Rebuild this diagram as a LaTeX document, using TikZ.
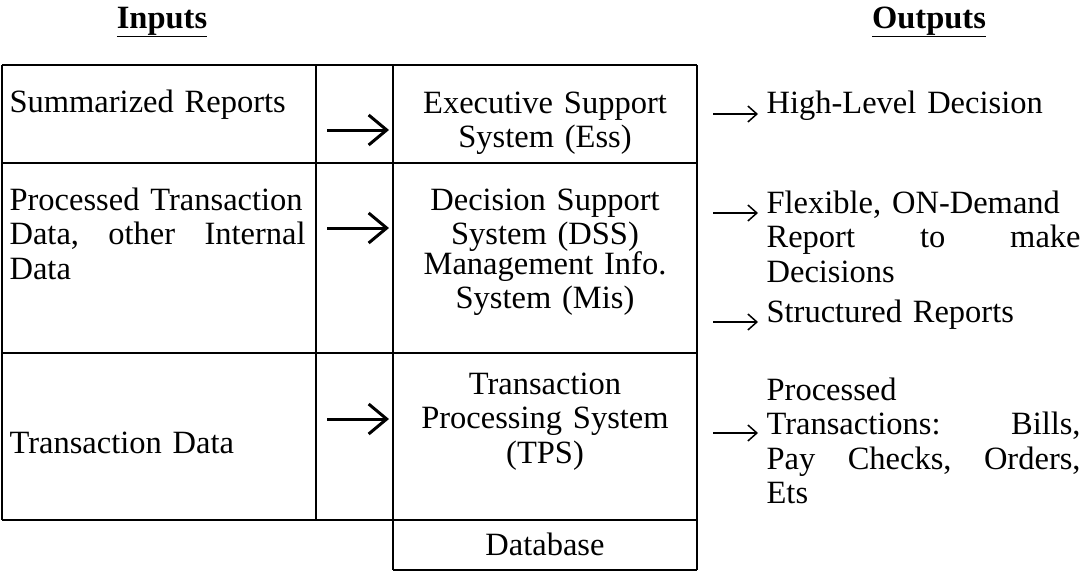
\documentclass[tikz,border=0pt]{standalone}
\usepackage{fontspec}
\setmainfont{Liberation Serif}
\usetikzlibrary{arrows.meta}

\tikzset{
  intext/.style={inner sep=0pt, anchor=base west, text width=300pt},
  systext/.style={inner sep=0pt, anchor=base, text width=300pt, align=center},
  outtext/.style={inner sep=0pt, anchor=base west, text width=314pt},
  inarrow/.style={line width=3pt, -{Straight Barb[length=18pt,width=30pt]}},
  outarrow/.style={line width=1.5pt, -{Straight Barb[length=9pt,width=16pt]}}
}

\begin{document}
\begin{tikzpicture}[x=1pt, y=-1pt, line width=1.2pt,
    every node/.style={font=\fontsize{32.5}{34.5}\selectfont}]
  \useasboundingbox (0,0) rectangle (1087,576);

  % Draw headings
  \node[inner sep=0pt, anchor=base] (inputs) at (162,28) {\textbf{\underline{Inputs}}};
  \node[inner sep=0pt, anchor=base] (outputs) at (929,28) {\textbf{\underline{Outputs}}};

  % Draw table
  \foreach \y in {65,163,353,520}
    \draw (2,\y) -- (697,\y);
  \draw (393,570) -- (697,570);
  \draw (2,65) -- (2,520);
  \draw (316,65) -- (316,520);
  \draw (393,65) -- (393,570);
  \draw (697,65) -- (697,570);

  % Inputs
  \node[intext] (summ) at (9,112) {Summarized Reports};
  \node[intext] (ptd) at (9,210) {Processed Transaction\\
    \makebox[296pt]{Data,\hfill other\hfill Internal}\\ Data};
  \node[intext] (tdata) at (9,453) {Transaction Data};

  % Systems
  \node[systext] (ess) at (545,113) {Executive Support\\ System (Ess)};
  \node[systext] (dss) at (545,210) {Decision Support\\ System (DSS)};
  \node[systext] (mis) at (545,274) {Management Info.\\ System (Mis)};
  \node[systext] (tps) at (545,394) {Transaction\\ Processing System\\ (TPS)};
  \node[systext] (db) at (545,555) {Database};

  % Outputs
  \node[outtext] (hld) at (766,113) {High-Level Decision};
  \node[outtext] (flex) at (766,213) {Flexible, ON-Demand\\
    \makebox[314pt]{Report\hfill to\hfill make}\\ Decisions};
  \node[outtext] (struct) at (766,322) {Structured Reports};
  \node[outtext] (ptrans) at (766,400) {Processed\\
    \makebox[314pt]{Transactions:\hfill Bills,}\\
    \makebox[314pt]{Pay\hfill Checks,\hfill Orders,}\\ Ets};

  % Arrows
  \coordinate (i1) at (327,130);
  \coordinate (j1) at (389,130);
  \coordinate (i2) at (327,228);
  \coordinate (j2) at (389,228);
  \coordinate (i3) at (327,419);
  \coordinate (j3) at (389,419);
  \draw[inarrow] (i1) -- (j1);
  \draw[inarrow] (i2) -- (j2);
  \draw[inarrow] (i3) -- (j3);

  \coordinate (o1) at (713,114);
  \coordinate (o2) at (713,213);
  \coordinate (o3) at (713,322);
  \coordinate (o4) at (713,433);
  \draw[outarrow, shorten >=8pt] (o1) -- (hld.west |- o1);
  \draw[outarrow, shorten >=8pt] (o2) -- (flex.west |- o2);
  \draw[outarrow, shorten >=8pt] (o3) -- (struct.west |- o3);
  \draw[outarrow, shorten >=8pt] (o4) -- (ptrans.west |- o4);
\end{tikzpicture}
\end{document}
